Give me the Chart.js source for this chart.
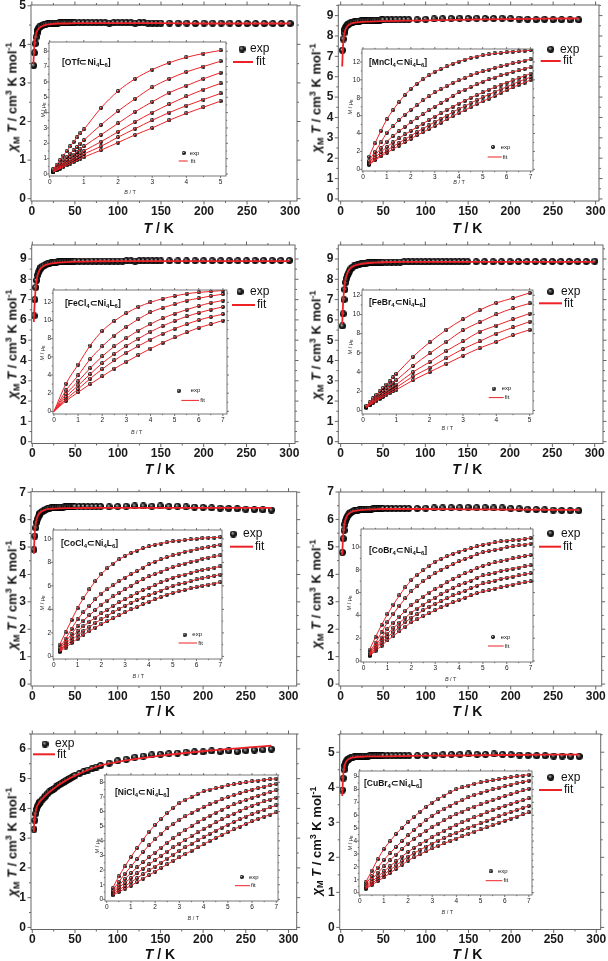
<!DOCTYPE html>
<html>
<head>
<meta charset="utf-8">
<script src="https://cdn.jsdelivr.net/npm/chart.js@4.4.1/dist/chart.umd.min.js"></script>
<style>
  body { margin: 0; width: 608px; height: 961px; position: relative; overflow: hidden; background: #fff;
         font-family: "Liberation Sans", Arial, sans-serif; color: #111; }
  canvas { position: absolute; }
  .t { position: absolute; white-space: nowrap; line-height: 1; }
  .yt { transform: translate(-50%, -50%) rotate(-90deg); font-weight: bold; font-size: 13px; }
  .xt { transform: translate(-50%, -50%); font-weight: bold; font-size: 14px; }
  .cmp { transform: translate(0, -50%); font-weight: bold; font-size: 8.5px; }
  .iy { transform: translate(-50%, -50%) rotate(-90deg); font-size: 5.5px; color: #333; }
  .ix { transform: translate(-50%, -50%); font-size: 5.5px; color: #333; }
  sub, sup { font-size: 70%; line-height: 0; }
  sub { vertical-align: -0.3em; }
  sup { vertical-align: 0.5em; }
</style>
</head>
<body>
<script>
// temperatures (K) of the chi*T measurements
const T_A = [2,3,4,5,6,7,8,9,10,12,14,16,18,20,22,24,26,28,30,32,34,36,38,40,42,44,46,48,50,
  55,60,65,70,75,80,85,90,95,100,105,110,115,120,125,130,135,140,145,150,
  160,170,180,190,200,210,220,230,240,250,260,270,280,290,300];
const T_B = [2,3,4,5,6,7,8,9,10,12,14,16,18,20,22,24,26,28,30,32,34,36,38,40,42,44,46,48,50,
  55,60,65,70,75,80,90,100,110,120,130,140,150,160,170,180,190,200,210,220,230,240,250,260,270,280];
const T_FIT_A = [1.8,2,2.5,3,4,5,6,8,10,12,15,20,25,30,40,50,75,100,150,200,250,300];
const T_FIT_B = [1.8,2,2.5,3,4,5,6,8,10,12,15,20,25,30,40,50,75,100,150,200,250,280];

// chi_M T (cm3 K mol-1)
const CHI_OTF = [3.45,3.78,4.02,4.19,4.3,4.37,4.42,4.45,4.47,4.5,4.51,4.52,4.53,4.54,4.54,4.55,4.55,4.55,4.55,4.56,4.56,4.56,4.56,4.56,4.56,4.56,4.56,4.56,4.56,
  4.56,4.56,4.56,4.56,4.56,4.56,4.56,4.55,4.56,4.56,4.56,4.56,4.56,4.55,4.56,4.56,4.55,4.55,4.55,4.55,
  4.55,4.55,4.55,4.54,4.55,4.55,4.55,4.55,4.54,4.54,4.54,4.54,4.54,4.54,4.54];
const FIT_OTF = [3.5,3.6,3.82,3.98,4.17,4.27,4.34,4.41,4.45,4.47,4.5,4.52,4.53,4.54,4.54,4.55,4.55,4.55,4.55,4.54,4.54,4.54];
const CHI_MN = [7.3,7.85,8.15,8.32,8.43,8.5,8.55,8.58,8.6,8.64,8.67,8.69,8.7,8.72,8.73,8.74,8.75,8.75,8.76,8.76,8.77,8.77,8.77,8.78,8.78,8.78,8.78,8.79,8.79,
  8.79,8.79,8.8,8.8,8.8,8.8,
  8.8,8.82,8.84,8.85,8.86,8.87,8.86,8.87,8.86,8.86,8.87,8.85,8.83,8.82,8.8,8.82,8.8,8.8,8.79,8.79];
const FIT_MN = [6.5,6.75,7.3,7.65,8.02,8.22,8.35,8.49,8.56,8.6,8.64,8.67,8.69,8.7,8.72,8.73,8.75,8.77,8.8,8.83,8.85,8.86];
const CHI_FECL = [6.2,7.0,7.6,7.95,8.2,8.35,8.45,8.52,8.58,8.65,8.7,8.74,8.77,8.8,8.82,8.83,8.84,8.85,8.86,8.86,8.87,8.87,8.87,8.88,8.88,8.88,8.88,8.89,8.89,
  8.89,8.89,8.89,8.9,8.9,8.9,8.9,8.9,8.9,8.9,8.9,8.91,8.91,8.9,8.91,8.91,8.91,8.91,8.91,8.91,
  8.91,8.91,8.91,8.92,8.92,8.92,8.92,8.92,8.92,8.92,8.93,8.93,8.93,8.93,8.93];
const FIT_FECL = [5.9,6.1,6.6,7.0,7.6,7.95,8.17,8.42,8.55,8.62,8.7,8.76,8.8,8.82,8.85,8.87,8.89,8.9,8.9,8.9,8.9,8.9];
const CHI_FEBR = [5.7,6.3,7.0,7.5,7.85,8.05,8.2,8.3,8.4,8.52,8.6,8.66,8.7,8.73,8.75,8.77,8.78,8.79,8.8,8.81,8.81,8.82,8.82,8.83,8.83,8.83,8.84,8.84,8.84,
  8.85,8.85,8.85,8.85,8.86,8.86,8.86,8.86,8.86,8.86,8.87,8.87,8.87,8.87,8.87,8.87,8.87,8.87,8.87,8.87,
  8.87,8.87,8.87,8.87,8.87,8.88,8.88,8.88,8.88,8.88,8.88,8.88,8.88,8.88,8.89];
const FIT_FEBR = [5.8,5.95,6.5,6.9,7.45,7.8,8.05,8.32,8.47,8.56,8.65,8.72,8.76,8.79,8.82,8.84,8.86,8.86,8.86,8.86,8.86,8.86];
const CHI_COCL = [4.9,5.4,5.7,5.9,6.02,6.1,6.17,6.22,6.26,6.31,6.35,6.38,6.4,6.42,6.43,6.44,6.44,6.45,6.45,6.46,6.46,6.46,6.47,6.47,6.47,6.47,6.47,6.48,6.48,
  6.48,6.48,6.48,6.48,6.48,6.48,
  6.47,6.48,6.49,6.5,6.5,6.49,6.5,6.48,6.49,6.47,6.46,6.45,6.43,6.42,6.41,6.4,6.38,6.37,6.36,6.35];
const FIT_COCL = [4.75,4.9,5.3,5.55,5.85,6.0,6.1,6.22,6.28,6.32,6.36,6.39,6.4,6.41,6.42,6.42,6.43,6.43,6.43,6.43,6.43,6.43];
const CHI_COBR = [4.8,5.3,5.6,5.82,5.95,6.05,6.12,6.17,6.21,6.26,6.29,6.31,6.33,6.34,6.35,6.36,6.36,6.37,6.37,6.38,6.38,6.38,6.39,6.39,6.39,6.39,6.4,6.4,6.4,
  6.4,6.4,6.4,6.4,6.4,6.4,
  6.4,6.41,6.42,6.42,6.43,6.43,6.44,6.43,6.43,6.42,6.42,6.4,6.39,6.37,6.36,6.35,6.34,6.33,6.32,6.32];
const FIT_COBR = [4.7,4.85,5.2,5.45,5.75,5.92,6.03,6.16,6.22,6.26,6.3,6.33,6.35,6.36,6.37,6.38,6.38,6.38,6.37,6.36,6.35,6.35];
const CHI_NICL = [3.3,3.6,3.82,3.97,4.07,4.13,4.18,4.21,4.24,4.31,4.37,4.43,4.5,4.56,4.6,4.63,4.67,4.72,4.77,4.8,4.84,4.87,4.91,4.95,4.98,5.01,5.04,5.07,5.1,
  5.17,5.23,5.29,5.34,5.39,5.44,
  5.52,5.6,5.65,5.72,5.76,5.8,5.82,5.84,5.86,5.89,5.9,5.9,5.93,5.91,5.93,5.91,5.94,5.96,5.97,5.99];
const FIT_NICL = [3.2,3.35,3.55,3.7,3.9,4.02,4.1,4.2,4.27,4.33,4.42,4.55,4.66,4.77,4.95,5.1,5.4,5.56,5.77,5.92,6.04,6.11];
const CHI_CUBR = [3.92,4.26,4.5,4.62,4.7,4.75,4.78,4.8,4.82,4.84,4.86,4.87,4.87,4.88,4.88,4.88,4.89,4.89,4.89,4.89,4.9,4.9,4.9,4.9,4.9,4.9,4.9,4.9,4.9,
  4.9,4.9,4.9,4.9,4.9,4.9,
  4.9,4.91,4.92,4.93,4.94,4.94,4.95,4.94,4.94,4.95,4.94,4.93,4.92,4.91,4.9,4.9,4.89,4.89,4.88,4.88];
const FIT_CUBR = [3.75,3.9,4.15,4.35,4.55,4.65,4.72,4.78,4.81,4.83,4.85,4.87,4.87,4.88,4.88,4.88,4.89,4.9,4.91,4.92,4.93,4.93];

// fields (T) of the magnetisation curves
const B_LOW = [0.1,0.2,0.3,0.4,0.5,0.6,0.7,0.8,0.9,1,1.5,2,2.5,3,3.5,4,4.5,5];
const B_HALF = [0.5,1,1.5,2,2.5,3,3.5,4,4.5,5,5.5,6,6.5,7];
const B_QTR = [0.25,0.5,0.75,1,1.25,1.5,1.75,2,2.25,2.5,2.75,3,3.25,3.5,3.75,4,4.25,4.5,4.75,5,5.25,5.5,5.75,6,6.25,6.5,6.75,7];

// M (muB), one row per temperature
const M_OTF = [
  [0.3,0.6,0.9,1.2,1.5,1.8,2.1,2.38,2.65,2.9,4.3,5.4,6.2,6.8,7.25,7.6,7.85,8.05],
  [0.23,0.46,0.68,0.9,1.12,1.33,1.55,1.76,1.98,2.2,3.2,4.1,4.9,5.65,6.2,6.65,7.0,7.35],
  [0.19,0.37,0.55,0.73,0.91,1.09,1.27,1.45,1.63,1.8,2.55,3.3,4.05,4.7,5.3,5.75,6.2,6.6],
  [0.16,0.31,0.46,0.61,0.76,0.91,1.06,1.21,1.36,1.5,2.1,2.75,3.4,4.0,4.55,5.05,5.5,5.9],
  [0.14,0.27,0.4,0.53,0.66,0.79,0.92,1.05,1.18,1.3,1.8,2.4,2.95,3.5,4.0,4.45,4.85,5.25],
  [0.12,0.23,0.34,0.45,0.56,0.67,0.78,0.89,1.0,1.1,1.55,2.05,2.55,3.0,3.5,3.95,4.35,4.75]
];
const M_MN = [
  [1.4,2.9,4.3,5.6,6.6,7.5,8.3,9.0,9.55,10.05,10.5,10.9,11.2,11.5,11.8,12.05,12.25,12.45,12.6,12.75,12.85,12.95,13.0,13.1,13.15,13.2,13.25,13.3],
  [0.95,1.95,3.0,4.1,4.8,5.5,6.1,6.65,7.15,7.7,8.15,8.6,8.95,9.3,9.65,9.95,10.2,10.5,10.75,10.95,11.15,11.35,11.5,11.7,11.85,12.0,12.15,12.3],
  [0.75,1.55,2.35,3.1,3.7,4.25,4.75,5.25,5.7,6.15,6.6,7.0,7.4,7.8,8.2,8.6,8.9,9.2,9.5,9.8,10.05,10.25,10.5,10.7,10.9,11.05,11.25,11.4],
  [0.65,1.3,1.9,2.5,3.0,3.45,3.9,4.3,4.7,5.1,5.5,5.9,6.25,6.65,7.0,7.35,7.65,8.0,8.3,8.6,8.9,9.15,9.45,9.7,9.95,10.2,10.45,10.7],
  [0.55,1.1,1.6,2.1,2.55,2.95,3.35,3.75,4.15,4.55,4.9,5.3,5.65,6.0,6.4,6.75,7.05,7.4,7.75,8.05,8.35,8.65,8.95,9.2,9.5,9.8,10.05,10.3],
  [0.5,1.0,1.45,1.85,2.25,2.65,3.05,3.4,3.8,4.15,4.5,4.85,5.2,5.6,5.95,6.3,6.6,6.95,7.3,7.6,7.9,8.2,8.55,8.85,9.15,9.45,9.7,10.0]
];
const M_FECL = [
  [3.05,5.15,7.25,8.85,9.95,10.8,11.5,12.0,12.4,12.7,12.95,13.1,13.2,13.3],
  [2.3,3.95,5.75,7.15,8.35,9.3,10.15,10.9,11.4,11.8,12.2,12.45,12.7,12.9],
  [1.9,3.3,4.75,6.05,7.15,8.05,8.9,9.6,10.25,10.75,11.2,11.6,11.95,12.2],
  [1.6,2.85,4.1,5.3,6.3,7.2,8.0,8.75,9.4,9.95,10.45,10.85,11.2,11.5],
  [1.35,2.45,3.6,4.65,5.6,6.45,7.2,7.9,8.55,9.1,9.6,10.05,10.4,10.7],
  [1.15,2.1,3.0,3.85,4.7,5.45,6.2,6.9,7.55,8.15,8.7,9.2,9.6,10.0]
];
const M_FEBR = [
  [0.45,0.85,1.25,1.62,2.0,2.35,2.7,3.05,3.45,3.8,5.6,7.1,8.4,9.5,10.45,11.2,11.7,12.25],
  [0.4,0.72,1.05,1.38,1.7,2.0,2.3,2.6,2.9,3.15,4.65,5.95,7.15,8.35,9.2,10.0,10.65,11.15],
  [0.35,0.65,0.95,1.2,1.48,1.75,2.0,2.25,2.48,2.7,4.0,5.05,6.2,7.2,8.2,8.85,9.5,10.1],
  [0.32,0.58,0.85,1.08,1.32,1.55,1.78,2.0,2.2,2.4,3.55,4.45,5.45,6.4,7.2,8.0,8.65,9.25],
  [0.3,0.54,0.77,0.98,1.2,1.4,1.6,1.8,1.98,2.15,3.15,4.0,4.85,5.7,6.5,7.15,7.85,8.4]
];
const M_COCL = [
  [1.0,2.05,3.1,4.1,4.95,5.7,6.4,7.0,7.5,7.9,8.25,8.55,8.8,9.0,9.2,9.35,9.5,9.6,9.7,9.8,9.85,9.9,9.95,10.0,10.05,10.1,10.1,10.15],
  [0.7,1.5,2.35,3.15,3.75,4.3,4.85,5.35,5.7,6.05,6.4,6.7,7.0,7.25,7.55,7.85,8.05,8.25,8.45,8.6,8.75,8.9,9.0,9.1,9.2,9.3,9.4,9.5],
  [0.6,1.25,1.9,2.55,3.05,3.5,3.95,4.4,4.75,5.1,5.4,5.7,6.0,6.3,6.55,6.8,7.0,7.2,7.4,7.6,7.75,7.9,8.05,8.15,8.3,8.4,8.5,8.6],
  [0.5,1.05,1.6,2.15,2.55,2.95,3.3,3.65,3.95,4.3,4.6,4.85,5.1,5.4,5.65,5.85,6.05,6.3,6.5,6.7,6.85,6.95,7.1,7.25,7.35,7.45,7.55,7.65],
  [0.45,0.9,1.35,1.8,2.15,2.5,2.85,3.15,3.45,3.75,4.05,4.3,4.55,4.8,5.0,5.2,5.4,5.6,5.8,6.0,6.15,6.25,6.4,6.55,6.65,6.75,6.85,6.95],
  [0.4,0.75,1.15,1.5,1.85,2.15,2.45,2.75,3.0,3.25,3.5,3.75,4.0,4.2,4.45,4.65,4.85,5.05,5.25,5.4,5.55,5.65,5.8,5.9,6.0,6.1,6.2,6.3]
];
const M_COBR = [
  [1.0,2.1,3.15,4.1,4.95,5.75,6.45,7.1,7.55,7.95,8.35,8.7,8.95,9.2,9.4,9.6,9.75,9.9,10.05,10.2,10.3,10.4,10.5,10.55,10.6,10.65,10.7,10.8],
  [0.75,1.6,2.5,3.4,4.15,4.85,5.5,6.1,6.55,7.0,7.35,7.7,8.0,8.25,8.5,8.75,8.95,9.15,9.35,9.55,9.65,9.75,9.85,10.0,10.05,10.15,10.2,10.3],
  [0.65,1.35,2.05,2.8,3.35,3.9,4.4,4.9,5.25,5.65,6.0,6.3,6.6,6.9,7.2,7.45,7.7,7.9,8.15,8.35,8.5,8.65,8.75,8.9,9.0,9.1,9.2,9.3],
  [0.55,1.15,1.8,2.4,2.9,3.35,3.8,4.25,4.6,4.95,5.25,5.55,5.85,6.15,6.4,6.65,6.85,7.05,7.3,7.5,7.6,7.75,7.9,8.0,8.1,8.2,8.3,8.4],
  [0.5,1.05,1.6,2.1,2.55,3.0,3.4,3.8,4.1,4.45,4.75,5.0,5.25,5.5,5.75,5.95,6.15,6.4,6.6,6.8,6.9,7.05,7.2,7.3,7.4,7.5,7.6,7.7],
  [0.45,0.9,1.35,1.8,2.2,2.6,3.0,3.4,3.65,3.95,4.2,4.45,4.7,4.95,5.15,5.35,5.55,5.75,5.95,6.1,6.2,6.35,6.45,6.6,6.7,6.8,6.9,7.0]
];
const M_NICL = [
  [0.78,1.57,2.25,2.9,3.5,4.08,4.62,5.09,5.5,5.9,6.25,6.57,6.8,7.0,7.2,7.4,7.5,7.6,7.7,7.8,7.87,7.94,8.0,8.07,8.12,8.17,8.21,8.25],
  [0.6,1.2,1.75,2.25,2.75,3.25,3.7,4.1,4.5,4.85,5.15,5.43,5.68,5.92,6.13,6.32,6.5,6.67,6.84,7.0,7.13,7.26,7.38,7.5,7.6,7.7,7.8,7.9],
  [0.5,0.95,1.4,1.8,2.18,2.54,2.88,3.2,3.54,3.87,4.18,4.48,4.75,5.02,5.27,5.5,5.72,5.93,6.13,6.32,6.49,6.65,6.8,6.95,7.08,7.21,7.33,7.45],
  [0.42,0.8,1.14,1.46,1.78,2.1,2.4,2.69,2.98,3.27,3.55,3.81,4.07,4.33,4.58,4.82,5.04,5.26,5.47,5.67,5.86,6.05,6.23,6.4,6.55,6.69,6.82,6.95],
  [0.35,0.64,0.91,1.17,1.45,1.72,1.98,2.24,2.51,2.79,3.06,3.32,3.56,3.8,4.03,4.26,4.48,4.7,4.91,5.11,5.3,5.48,5.66,5.83,5.99,6.14,6.29,6.43],
  [0.28,0.51,0.73,0.94,1.18,1.42,1.66,1.9,2.15,2.4,2.64,2.87,3.1,3.33,3.55,3.77,3.99,4.2,4.4,4.6,4.79,4.98,5.16,5.34,5.5,5.65,5.8,5.94]
];
const M_CUBR = [
  [0.81,1.7,2.6,3.38,3.98,4.55,5.03,5.46,5.88,6.28,6.65,6.98,7.27,7.53,7.78,8.0,8.16,8.3,8.43,8.55,8.64,8.72,8.8,8.88,8.95,9.02,9.08,9.14],
  [0.65,1.3,1.95,2.54,3.05,3.54,4.0,4.44,4.86,5.26,5.63,5.96,6.24,6.5,6.75,6.98,7.18,7.38,7.57,7.74,7.88,8.01,8.13,8.25,8.37,8.48,8.58,8.68],
  [0.5,1.03,1.55,2.03,2.5,2.95,3.39,3.81,4.17,4.5,4.8,5.08,5.35,5.61,5.86,6.09,6.29,6.48,6.67,6.85,7.02,7.18,7.34,7.49,7.64,7.78,7.92,8.05],
  [0.42,0.84,1.25,1.65,2.05,2.43,2.8,3.17,3.47,3.76,4.04,4.31,4.56,4.8,5.03,5.25,5.46,5.66,5.85,6.04,6.22,6.4,6.57,6.73,6.88,7.03,7.17,7.31],
  [0.36,0.72,1.07,1.4,1.76,2.11,2.45,2.79,3.06,3.32,3.57,3.81,4.03,4.24,4.44,4.64,4.83,5.02,5.2,5.38,5.56,5.74,5.92,6.09,6.25,6.41,6.57,6.73],
  [0.3,0.6,0.9,1.19,1.52,1.85,2.17,2.49,2.74,2.98,3.21,3.43,3.63,3.82,4.01,4.19,4.37,4.55,4.73,4.9,5.07,5.24,5.41,5.58,5.74,5.9,6.06,6.22]
];

const RED = '#ec2227';
const FONT = '"Liberation Sans", Arial, sans-serif';

function ball(d) {
  const c = document.createElement('canvas');
  c.width = c.height = d;
  const g = c.getContext('2d');
  const r = d / 2;
  const grad = g.createRadialGradient(r * 0.75, r * 0.7, 0, r, r, r);
  grad.addColorStop(0, '#e0e0e0');
  grad.addColorStop(0.22, '#7a7a7a');
  grad.addColorStop(0.55, '#1e1e1e');
  grad.addColorStop(1, '#000');
  g.fillStyle = grad;
  g.beginPath(); g.arc(r, r, r, 0, Math.PI * 2); g.fill();
  return c;
}
const BIG = ball(7), SMALL = ball(4);

const toXY = (xs, ys) => xs.map((x, i) => ({ x, y: ys[i] }));

// box outline with outward major/minor ticks on all four sides
const framePlugin = {
  id: 'frame',
  afterDatasetsDraw(chart, args, o) {
    if (!o.on) return;
    const { ctx, chartArea: a, scales } = chart;
    ctx.save();
    ctx.strokeStyle = o.color;
    ctx.lineWidth = o.lw;
    ctx.strokeRect(a.left, a.top, a.right - a.left, a.bottom - a.top);
    ctx.beginPath();
    for (const s of [scales.x, scales.y]) {
      const v = s.ticks.map(t => t.value);
      const h = (v[1] - v[0]) / 2;
      for (let k = Math.ceil(s.min / h - 1e-9); k * h <= s.max + 1e-9; k++) {
        const len = k % 2 === 0 ? o.major : o.minor;
        const p = s.getPixelForValue(k * h);
        if (s.isHorizontal()) {
          ctx.moveTo(p, a.bottom); ctx.lineTo(p, a.bottom + len);
          ctx.moveTo(p, a.top); ctx.lineTo(p, a.top - len);
        } else {
          ctx.moveTo(a.left, p); ctx.lineTo(a.left - len, p);
          ctx.moveTo(a.right, p); ctx.lineTo(a.right + len, p);
        }
      }
    }
    ctx.stroke();
    ctx.restore();
  }
};

// exp / fit key at fixed spots
const keyPlugin = {
  id: 'key',
  afterDatasetsDraw(chart, args, o) {
    if (!o.m) return;
    const ctx = chart.ctx;
    const ds = chart.data.datasets;
    const exp = ds.find(d => d.label === 'exp'), fit = ds.find(d => d.label === 'fit');
    ctx.save();
    ctx.drawImage(o.img, o.m[0] - o.img.width / 2, o.m[1] - o.img.height / 2);
    ctx.strokeStyle = fit.borderColor;
    ctx.lineWidth = o.lw;
    ctx.beginPath(); ctx.moveTo(o.l[0], o.l[2]); ctx.lineTo(o.l[1], o.l[2]); ctx.stroke();
    ctx.fillStyle = '#111';
    ctx.font = o.font;
    ctx.textBaseline = 'middle';
    ctx.fillText(exp.label, o.e[0], o.e[1]);
    ctx.fillText(fit.label, o.f[0], o.f[1]);
    ctx.restore();
  }
};
Chart.register(framePlugin, keyPlugin);

function addCanvas(x, y, w, h) {
  const cv = document.createElement('canvas');
  cv.width = w; cv.height = h;
  cv.style.left = x + 'px'; cv.style.top = y + 'px';
  document.body.appendChild(cv);
  return cv;
}

function text(html, x, y, cls) {
  const d = document.createElement('div');
  d.className = 't ' + cls;
  d.style.left = x + 'px'; d.style.top = y + 'px';
  d.innerHTML = html;
  document.body.appendChild(d);
}

function shiftKey(k, ox, oy) {
  return { m: [k.m[0] - ox, k.m[1] - oy], e: [k.e[0] - ox, k.e[1] - oy],
           l: [k.l[0] - ox, k.l[1] - ox, k.l[2] - oy], f: [k.f[0] - ox, k.f[1] - oy] };
}

function axes(b, ox, oy, w, h, xr, yr, xStep, yStep, font, pad) {
  return {
    x: { type: 'linear', min: xr[0], max: xr[1],
         afterFit: s => { s.height = oy + h - b.b; s.paddingLeft = s.paddingRight = 0; },
         grid: { display: false, drawTicks: false }, border: { display: false },
         ticks: { stepSize: xStep, includeBounds: false, autoSkip: false, maxRotation: 0, padding: pad[0], font, color: '#1a1a1a' } },
    y: { type: 'linear', min: yr[0], max: yr[1],
         afterFit: s => { s.width = b.l - ox; s.paddingTop = s.paddingBottom = 0; },
         grid: { display: false, drawTicks: false }, border: { display: false },
         ticks: { stepSize: yStep, includeBounds: false, autoSkip: false, padding: pad[1], font, color: '#1a1a1a' } }
  };
}

function mainPanel(p) {
  const [ox, oy, w, h] = p.rect, b = p.box;
  new Chart(addCanvas(ox, oy, w, h), {
    type: 'scatter',
    data: { datasets: [
      { label: 'fit', data: toXY(p.tFit, p.fit), showLine: true, borderColor: RED, borderWidth: 1.8,
        pointRadius: 0, cubicInterpolationMode: 'monotone', order: 0 },
      { label: 'exp', data: toXY(p.t, p.chi), pointStyle: BIG, pointRadius: 3.5, order: 1 }
    ] },
    options: {
      responsive: false, animation: false, events: [],
      layout: { padding: { top: b.t - oy, right: ox + w - b.r, left: 0, bottom: 0 } },
      plugins: { legend: { display: false }, tooltip: { enabled: false },
        frame: { on: true, color: '#666', lw: 1, major: 3.5, minor: 2 },
        key: Object.assign(shiftKey(p.key, ox, oy), { img: BIG, lw: 2, font: '12px ' + FONT }) },
      scales: axes(b, ox, oy, w, h, p.xr, p.yr, 50, 1, { family: FONT, size: 12, weight: 'bold' }, [3, 5])
    }
  });
  text('<i>χ</i><sub>M</sub><i> T</i> / cm<sup>3</sup> K mol<sup>-1</sup>', p.yt[0], p.yt[1], 'yt');
  text('<i>T</i> / K', p.xt[0], p.xt[1], 'xt');
}

function insetPanel(q) {
  const b = q.box;
  const ox = b.l - 12, oy = b.t - 3, w = b.r - b.l + 15, h = b.b - b.t + 13;
  const datasets = [];
  q.M.forEach(row => {
    const pts = toXY(q.B, row);
    datasets.push({ label: 'fit', data: q.origin ? [{ x: 0, y: 0 }].concat(pts) : pts, showLine: true,
      borderColor: RED, borderWidth: 1, pointRadius: 0, cubicInterpolationMode: 'monotone', order: 0 });
    datasets.push({ label: 'exp', data: pts, pointStyle: SMALL, pointRadius: 2, order: 1 });
  });
  new Chart(addCanvas(ox, oy, w, h), {
    type: 'scatter',
    data: { datasets },
    options: {
      responsive: false, animation: false, events: [],
      layout: { padding: { top: b.t - oy, right: ox + w - b.r, left: 0, bottom: 0 } },
      plugins: { legend: { display: false }, tooltip: { enabled: false },
        frame: { on: true, color: '#555', lw: 0.8, major: 2, minor: 1.2 },
        key: Object.assign(shiftKey(q.key, ox, oy), { img: SMALL, lw: 1, font: '6px ' + FONT }) },
      scales: axes(b, ox, oy, w, h, q.xr, q.yr, 1, q.yStep, { family: FONT, size: 6.5 }, [2, 2])
    }
  });
  text(q.name, q.nm[0], q.nm[1], 'cmp');
  text('<i>M</i> / μ<sub>B</sub>', q.yt[0], q.yt[1], 'iy');
  text('<i>B</i> / T', q.xt[0], q.xt[1], 'ix');
}

const NI = '⊂Ni<sub>4</sub>L<sub>6</sub>]';

mainPanel({ rect: [0, 0, 304, 240], box: { l: 31, r: 297, t: 5, b: 201 }, xr: [-1, 308], yr: [-0.06, 5.02],
  t: T_A, chi: CHI_OTF, tFit: T_FIT_A, fit: FIT_OTF, yt: [11.7, 97], xt: [158.7, 228],
  key: { m: [242, 49], e: [250, 49], l: [233, 253, 62], f: [256, 62] } });
insetPanel({ box: { l: 49.3, r: 228.3, t: 40, b: 176 }, xr: [-0.02, 5.16], yr: [-0.13, 8.6], yStep: 1,
  B: B_LOW, M: M_OTF, name: '[OTf' + NI, nm: [62, 62], yt: [43.5, 110], xt: [130, 193],
  key: { m: [184, 153], e: [190, 153], l: [179, 188, 161], f: [191, 161] } });

mainPanel({ rect: [304, 0, 304, 240], box: { l: 338.3, r: 599, t: 5, b: 201 }, xr: [-2.8, 304], yr: [-0.1, 9.52],
  t: T_B, chi: CHI_MN, tFit: T_FIT_B, fit: FIT_MN, yt: [315.7, 98], xt: [467.3, 228],
  key: { m: [550.7, 49.3], e: [560, 49.3], l: [540.7, 560.7, 61], f: [563, 61] } });
insetPanel({ box: { l: 362.3, r: 535.7, t: 46.7, b: 170.7 }, xr: [-0.04, 7.1], yr: [-0.19, 13.45], yStep: 2,
  B: B_QTR, M: M_MN, name: '[MnCl<sub>4</sub>' + NI, nm: [369, 61.7], yt: [350.5, 106.7], xt: [459, 182.7],
  key: { m: [493.3, 146.7], e: [501, 146.7], l: [488, 502, 156.7], f: [503, 156.7] } });

mainPanel({ rect: [0, 240, 304, 240], box: { l: 31.7, r: 295, t: 245, b: 443.5 }, xr: [-0.7, 306.6], yr: [-0.09, 9.69],
  t: T_A, chi: CHI_FECL, tFit: T_FIT_A, fit: FIT_FECL, yt: [11.7, 344], xt: [160, 468.5],
  key: { m: [240, 291.7], e: [250, 291.7], l: [232, 255, 305], f: [257, 305] } });
insetPanel({ box: { l: 53.3, r: 230, t: 288.3, b: 415 }, xr: [-0.04, 7.17], yr: [-0.29, 13.36], yStep: 2, origin: true,
  B: B_HALF, M: M_FECL, name: '[FeCl<sub>4</sub>' + NI, nm: [65, 303.3], yt: [43, 353.3], xt: [136.7, 432.7],
  key: { m: [179, 391], e: [191, 391], l: [181.7, 199.3, 400.7], f: [200.5, 400.7] } });

mainPanel({ rect: [304, 240, 304, 240], box: { l: 338.3, r: 605.7, t: 245, b: 443.5 }, xr: [-2.8, 309.8], yr: [-0.09, 9.69],
  t: T_A, chi: CHI_FEBR, tFit: T_FIT_A, fit: FIT_FEBR, yt: [315.7, 345], xt: [467.3, 468.5],
  key: { m: [550.7, 291.7], e: [561, 291.7], l: [539, 562, 303.3], f: [564, 303.3] } });
insetPanel({ box: { l: 362.3, r: 535.7, t: 287.7, b: 414.3 }, xr: [-0.03, 5.1], yr: [-0.37, 12.55], yStep: 2,
  B: B_LOW, M: M_FEBR, name: '[FeBr<sub>4</sub>' + NI, nm: [369, 301.7], yt: [350.5, 346.7], xt: [447.3, 429.3],
  key: { m: [494, 388.3], e: [502, 388.3], l: [489, 504, 397.3], f: [505, 397.3] } });

mainPanel({ rect: [0, 480, 304, 240], box: { l: 31, r: 296.7, t: 491.7, b: 686 }, xr: [-1.5, 309.6], yr: [-0.07, 7.02],
  t: T_B, chi: CHI_COCL, tFit: T_FIT_B, fit: FIT_COCL, yt: [11.7, 595], xt: [160, 711],
  key: { m: [233.3, 534], e: [243, 534], l: [230, 253, 546.7], f: [255, 546.7] } });
insetPanel({ box: { l: 52.7, r: 224, t: 528.3, b: 660 }, xr: [-0.03, 7.07], yr: [-0.22, 10.75], yStep: 2,
  B: B_QTR, M: M_COCL, name: '[CoCl<sub>4</sub>' + NI, nm: [61, 542.7], yt: [43, 603.3], xt: [138.3, 676.7],
  key: { m: [184.3, 635], e: [192, 635], l: [178.3, 196.7, 643.3], f: [198, 643.3] } });

mainPanel({ rect: [304, 480, 304, 240], box: { l: 339, r: 601.7, t: 492, b: 686 }, xr: [-2, 307], yr: [-0.07, 7.0],
  t: T_B, chi: CHI_COBR, tFit: T_FIT_B, fit: FIT_COBR, yt: [315.7, 594], xt: [467.3, 711],
  key: { m: [550.7, 533.3], e: [561, 533.3], l: [539, 561, 546.7], f: [563, 546.7] } });
insetPanel({ box: { l: 361.3, r: 535.7, t: 526.7, b: 662 }, xr: [-0.11, 7.1], yr: [-0.09, 11.58], yStep: 2,
  B: B_QTR, M: M_COBR, name: '[CoBr<sub>4</sub>' + NI, nm: [369, 550], yt: [350, 603.3], xt: [450.7, 680],
  key: { m: [493.3, 636.7], e: [501, 636.7], l: [488.3, 504, 645.7], f: [505, 645.7] } });

mainPanel({ rect: [0, 720, 304, 241], box: { l: 31, r: 296.7, t: 734, b: 929.5 }, xr: [-1.5, 309.6], yr: [-0.07, 6.5],
  t: T_B, chi: CHI_NICL, tFit: T_FIT_B, fit: FIT_NICL, yt: [11.7, 842], xt: [160, 954],
  key: { m: [45, 744], e: [55, 744], l: [33, 55, 754.3], f: [57, 754.3] } });
insetPanel({ box: { l: 105, r: 280, t: 773.3, b: 901.7 }, xr: [-0.07, 7.07], yr: [-0.11, 8.5], yStep: 1,
  B: B_QTR, M: M_NICL, name: '[NiCl<sub>4</sub>' + NI, nm: [115, 791.7], yt: [97.5, 846], xt: [193.3, 919.3],
  key: { m: [241.7, 877.3], e: [249, 877.3], l: [235, 250, 886], f: [251, 886] } });

mainPanel({ rect: [304, 720, 304, 241], box: { l: 339.7, r: 600.7, t: 734, b: 929.5 }, xr: [-1.2, 305.2], yr: [-0.06, 5.52],
  t: T_B, chi: CHI_CUBR, tFit: T_FIT_B, fit: FIT_CUBR, yt: [315.7, 841], xt: [467.3, 954],
  key: { m: [550.7, 777.3], e: [561, 777.3], l: [539, 562, 790], f: [564, 790] } });
insetPanel({ box: { l: 359, r: 534, t: 769.3, b: 895.7 }, xr: [-0.03, 7.13], yr: [-0.18, 9.43], yStep: 1,
  B: B_QTR, M: M_CUBR, name: '[CuBr<sub>4</sub>' + NI, nm: [364, 782.7], yt: [350.5, 843.3], xt: [447.3, 913.3],
  key: { m: [490.7, 871.7], e: [498, 871.7], l: [485.7, 502.3, 881], f: [503.5, 881] } });
</script>
</body>
</html>
